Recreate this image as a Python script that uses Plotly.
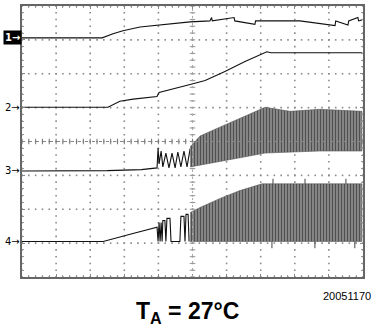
import numpy as np
import plotly.graph_objects as go

# Scope traces, in screen divisions (10 x 8)
ch1_x = [0, 2.35, 2.67, 2.96, 3.46, 4.05, 4.93, 5.51, 5.56, 5.58, 6.22, 6.24, 6.83, 6.85,
         8.15, 9.18, 9.20, 9.56, 9.58, 9.85, 9.87, 9.97]
ch1_y = [7.06, 7.06, 7.18, 7.27, 7.38, 7.44, 7.53, 7.56, 7.66, 7.56, 7.66, 7.56, 7.46, 7.56,
         7.56, 7.42, 7.56, 7.44, 7.56, 7.66, 7.56, 7.59]

ch2_x = [0, 2.52, 2.87, 3.26, 3.96, 4.02, 4.93, 5.37, 5.95, 6.54, 7.18, 7.30, 9.97]
ch2_y = [5.01, 5.01, 5.19, 5.25, 5.33, 5.45, 5.68, 5.80, 6.07, 6.36, 6.65, 6.62, 6.62]

ch3_x = [0, 2.5, 3.5, 3.96, 3.99, 4.02, 4.08, 4.13, 4.22, 4.31, 4.40, 4.49, 4.57, 4.66,
         4.75, 4.84, 4.93]
ch3_y = [3.13, 3.14, 3.17, 3.22, 3.81, 3.34, 3.72, 3.25, 3.66, 3.22, 3.66, 3.22, 3.69, 3.25,
         3.72, 3.25, 3.78]
ch3_band_x = [4.93, 5.22, 5.75, 6.39, 7.13, 7.86, 8.74, 9.97]
ch3_band_top = [3.84, 4.16, 4.40, 4.69, 5.01, 4.89, 4.95, 4.89]
ch3_band_bot = [3.25, 3.31, 3.40, 3.52, 3.66, 3.69, 3.72, 3.72]

ch4_x = [0, 2.38, 3.17, 3.96, 3.99, 4.02, 4.05, 4.08, 4.11, 4.13, 4.19, 4.22, 4.25, 4.34,
         4.37, 4.63, 4.66, 4.75, 4.78, 4.81, 4.87, 4.90]
ch4_y = [1.05, 1.05, 1.26, 1.47, 1.05, 1.61, 1.05, 1.61, 1.05, 1.67, 1.67, 1.05, 1.73, 1.73,
         1.05, 1.05, 1.79, 1.79, 1.05, 1.85, 1.85, 1.05]
ch4_band_x = [4.93, 5.22, 5.81, 6.39, 7.04, 7.86, 8.74, 9.97]
ch4_band_top = [1.90, 2.05, 2.32, 2.55, 2.75, 2.75, 2.75, 2.75]
ch4_band_bot = [1.05, 1.05, 1.05, 1.05, 1.05, 1.05, 1.05, 1.05]
ch4_spike_x = [7.36, 7.33, 8.30, 8.59, 9.50, 9.76]
ch4_spike_y = [2.90, 0.85, 2.90, 0.85, 2.90, 0.85]

ch_labels = ["1", "2", "3", "4"]
ch_levels = [7.06, 5.01, 3.13, 1.05]

fig = go.Figure()

# dotted graticule: a dot every 0.2 division along each major line
gx, gy = [], []
for xv in range(11):
    for yv in np.arange(0, 8.01, 0.2):
        gx.append(xv); gy.append(yv)
for yv in range(9):
    for xv in np.arange(0, 10.01, 0.2):
        gx.append(xv); gy.append(yv)
fig.add_trace(go.Scatter(x=gx, y=gy, mode="markers",
                         marker=dict(symbol="square", size=1.6, color="#8a8a8a",
                                     line=dict(width=0))))

# centre crosshair: dashed lines with small ticks
fig.add_shape(type="line", x0=0, x1=10, y0=4, y1=4,
              line=dict(color="#888", width=1, dash="3px,4px"))
fig.add_shape(type="line", x0=5, x1=5, y0=0, y1=8,
              line=dict(color="#aaa", width=1, dash="2px,5px"))
tx = np.arange(0, 10.01, 0.2)
ty = np.arange(0, 8.01, 0.2)
fig.add_trace(go.Scatter(x=tx, y=[4] * len(tx), mode="markers",
                         marker=dict(symbol="line-ns-open", size=4, color="#777",
                                     line=dict(color="#777", width=1))))
fig.add_trace(go.Scatter(x=[5] * len(ty), y=ty, mode="markers",
                         marker=dict(symbol="line-ew-open", size=4, color="#999",
                                     line=dict(color="#999", width=1))))

line_style = dict(color="#111", width=1.1)
fig.add_trace(go.Scatter(x=ch1_x, y=ch1_y, mode="lines", line=line_style))
fig.add_trace(go.Scatter(x=ch2_x, y=ch2_y, mode="lines", line=line_style))
fig.add_trace(go.Scatter(x=ch3_x, y=ch3_y, mode="lines", line=line_style))
fig.add_trace(go.Scatter(x=ch4_x, y=ch4_y, mode="lines", line=line_style))

pattern = dict(shape="|", fgcolor="#111", bgcolor="#8f8f8f", size=3, solidity=0.45)
for bx, top, bot in [(ch3_band_x, ch3_band_top, ch3_band_bot),
                     (ch4_band_x, ch4_band_top, ch4_band_bot)]:
    fig.add_trace(go.Scatter(
        x=bx + bx[::-1], y=top + bot[::-1], mode="lines", fill="toself",
        fillpattern=pattern, fillcolor="#8f8f8f",
        line=dict(color="#555", width=0.6)))

# spikes on ch4
sx, sy = [], []
for xv, yv in zip(ch4_spike_x, ch4_spike_y):
    sx += [xv, xv, None]
    sy += [2.75 if yv > 2 else 1.05, yv, None]
fig.add_trace(go.Scatter(x=sx, y=sy, mode="lines", line=dict(color="#444", width=1)))

axis_common = dict(
    showticklabels=False, showgrid=False, zeroline=False, showline=True,
    linecolor="#666", linewidth=1.5, mirror="allticks", ticks="inside", ticklen=3,
    tickcolor="#888", dtick=1,
    minor=dict(dtick=0.2, ticks="inside", ticklen=2, tickcolor="#999", showgrid=False),
)
fig.update_xaxes(range=[0, 10], **axis_common)
fig.update_yaxes(range=[0, 8], **axis_common)

for lab, lev in zip(ch_labels, ch_levels):
    if lab == "1":
        fig.add_annotation(x=0, xref="paper", y=lev, yref="y", text="<b>1→</b>",
                           xanchor="right", showarrow=False, bgcolor="#000",
                           font=dict(color="#fff", size=10, family="DejaVu Sans"),
                           borderpad=1)
    else:
        fig.add_annotation(x=0, xref="paper", y=lev, yref="y", text=lab + "→",
                           xanchor="right", showarrow=False,
                           font=dict(color="#000", size=10, family="DejaVu Sans"))

fig.add_annotation(x=1.028, xref="paper", y=-0.07, yref="paper", text="20051170",
                   xanchor="right", yanchor="middle", showarrow=False,
                   font=dict(color="#000", size=11, family="Liberation Sans"))
fig.add_annotation(x=0.485, xref="paper", y=-0.13, yref="paper",
                   text="<b>T<sub>A</sub> = 27°C</b>",
                   xanchor="center", yanchor="middle", showarrow=False,
                   font=dict(color="#000", size=23, family="Liberation Sans"))

fig.update_layout(
    width=374, height=333,
    margin=dict(l=22, r=11, t=4, b=56),
    plot_bgcolor="#fff", paper_bgcolor="#fff",
    showlegend=False,
)

fig.write_html("out.html", config={"displayModeBar": False},
               post_script="document.body.style.margin='0px';")
